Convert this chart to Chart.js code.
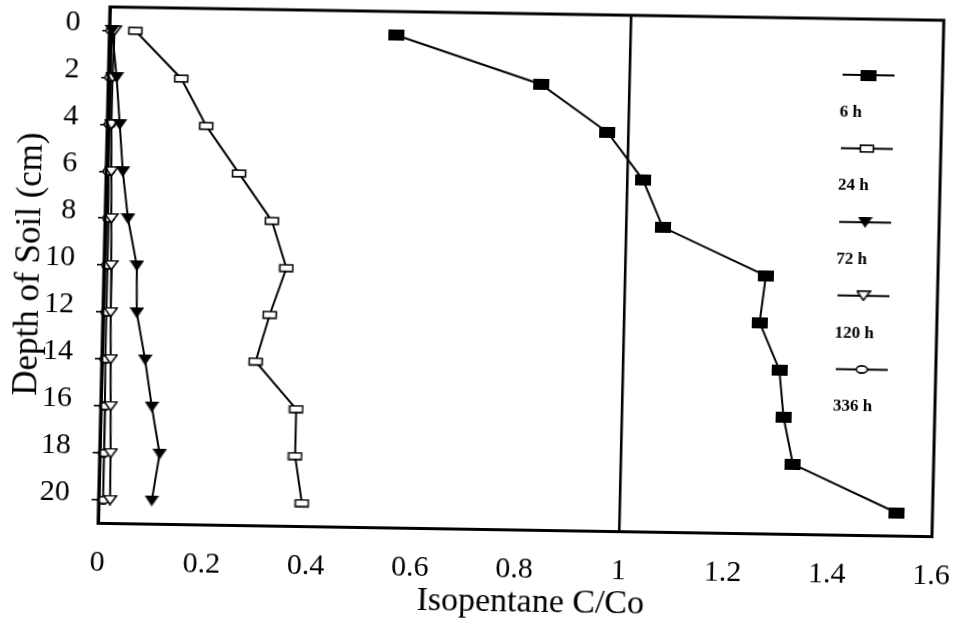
<!DOCTYPE html>
<html>
<head>
<meta charset="utf-8">
<script src="https://cdn.jsdelivr.net/npm/chart.js@4/dist/chart.umd.min.js"></script>
<style>
  html, body { margin: 0; padding: 0; background: #ffffff; overflow: hidden; }
  #wrap { position: absolute; left: 0; top: 0; width: 961px; height: 631px; background: #ffffff; }
  #c { position: absolute; left: 0; top: 0; background: #ffffff;
       transform-origin: 480px 315px; transform: matrix(1, 0.016, -0.023, 1, 0, 0); }
</style>
</head>
<body>
<div id="wrap"><canvas id="c" width="961" height="631"></canvas></div>
<script>
// ---------------- data ----------------
const depths = [0, 2, 4, 6, 8, 10, 12, 14, 16, 18, 20];
const seriesLabels = ['6 h', '24 h', '72 h', '120 h', '336 h'];
const c6h   = [0.55, 0.83, 0.96, 1.03, 1.07, 1.27, 1.26, 1.30, 1.31, 1.33, 1.53];
const c24h  = [0.05, 0.14, 0.19, 0.255, 0.32, 0.35, 0.32, 0.295, 0.375, 0.375, 0.39];
const c72h  = [0.005, 0.016, 0.024, 0.032, 0.044, 0.063, 0.065, 0.083, 0.098, 0.115, 0.102];
const c120h = [0.010, 0.008, 0.008, 0.010, 0.012, 0.014, 0.015, 0.017, 0.019, 0.021, 0.022];
const c336h = [0.004, 0.004, 0.005, 0.005, 0.006, 0.006, 0.007, 0.007, 0.008, 0.008, 0.009];
const refX = [1, 1];
const refDepth = [-1, 21];
const xTicks = [0, 0.2, 0.4, 0.6, 0.8, 1, 1.2, 1.4, 1.6];
const xTickLabels = ['0', '0.2', '0.4', '0.6', '0.8', '1', '1.2', '1.4', '1.6'];
const yTicks = [0, 2, 4, 6, 8, 10, 12, 14, 16, 18, 20];
const xTitle = '    Isopentane C/Co';
const yTitle = 'Depth of Soil (cm)';

// ---------------- markers ----------------
function marker(kind) {
  const c = document.createElement('canvas');
  const g = c.getContext('2d');
  g.fillStyle = '#000'; g.strokeStyle = '#000';
  if (kind === 'fsq') {
    c.width = 16; c.height = 11;
    g.fillRect(0, 0, 16, 11);
  } else if (kind === 'osq') {
    c.width = 16; c.height = 9;
    g.fillStyle = '#fff'; g.fillRect(1, 1, 14, 7);
    g.lineWidth = 1.6; g.strokeRect(1.5, 1.2, 13, 6.6);
  } else if (kind === 'ftri') {
    c.width = 15; c.height = 11;
    g.beginPath(); g.moveTo(0, 0); g.lineTo(15, 0); g.lineTo(7.5, 11); g.closePath(); g.fill();
  } else if (kind === 'otri') {
    c.width = 15; c.height = 11;
    g.fillStyle = '#fff';
    g.beginPath(); g.moveTo(1, 1); g.lineTo(14, 1); g.lineTo(7.5, 10); g.closePath(); g.fill();
    g.lineWidth = 1.6; g.stroke();
  } else {
    c.width = 13; c.height = 9;
    g.fillStyle = '#fff';
    g.beginPath(); g.ellipse(6.5, 4.5, 5.5, 3.6, 0, 0, Math.PI * 2); g.fill();
    g.lineWidth = 1.6; g.stroke();
  }
  return c;
}
const markers = [marker('fsq'), marker('osq'), marker('ftri'), marker('otri'), marker('ocirc')];

function pts(vals) { return vals.map((v, i) => ({ x: v, y: depths[i] })); }
const seriesValues = [c6h, c24h, c72h, c120h, c336h];

const datasets = seriesValues.map((vals, i) => ({
  label: seriesLabels[i],
  data: pts(vals),
  borderColor: '#000',
  backgroundColor: '#000',
  borderWidth: 2,
  pointStyle: markers[i],
  pointRadius: 6,
  pointHoverRadius: 6,
  showLine: true,
  tension: 0,
  clip: false,
  inLegend: true
}));
datasets.push({
  label: 'C/Co = 1',
  data: refX.map((v, i) => ({ x: v, y: refDepth[i] })),
  borderColor: '#000',
  borderWidth: 2.6,
  pointRadius: 0,
  showLine: true,
  inLegend: false
});

// ---------------- plugins ----------------
const framePlugin = {
  id: 'frame',
  afterDatasetsDraw(chart) {
    const a = chart.chartArea, ctx = chart.ctx;
    ctx.save();
    ctx.strokeStyle = '#000'; ctx.lineWidth = 3;
    ctx.strokeRect(a.left, a.top, a.right - a.left, a.bottom - a.top);
    ctx.restore();
  }
};

const legendPlugin = {
  id: 'stackLegend',
  afterDatasetsDraw(chart) {
    const ctx = chart.ctx;
    const a = chart.chartArea;
    const x0 = a.right - 100, x1 = a.right - 48;
    const xm = (x0 + x1) / 2;
    const y0 = a.top + 56, step = 73.6;
    ctx.save();
    chart.data.datasets.filter(d => d.inLegend).forEach((d, i) => {
      const y = y0 + i * step;
      ctx.strokeStyle = '#000'; ctx.lineWidth = 2;
      ctx.beginPath(); ctx.moveTo(x0, y); ctx.lineTo(x1, y); ctx.stroke();
      const m = d.pointStyle;
      ctx.drawImage(m, xm - m.width / 2, y - m.height / 2);
      ctx.fillStyle = '#000';
      ctx.font = 'bold 17px "Liberation Serif", "DejaVu Serif", serif';
      ctx.textAlign = 'left'; ctx.textBaseline = 'middle';
      ctx.fillText(d.label, x0 - 2, y + 37.5);
    });
    ctx.restore();
  }
};

// ---------------- chart ----------------
new Chart(document.getElementById('c'), {
  type: 'scatter',
  data: { datasets },
  options: {
    responsive: false,
    devicePixelRatio: 1,
    animation: false,
    events: [],
    layout: { padding: { left: 0, right: 24, top: 13, bottom: 0 } },
    plugins: { legend: { display: false }, tooltip: { enabled: false } },
    scales: {
      x: {
        type: 'linear',
        position: 'bottom',
        min: 0, max: 1.6,
        afterBuildTicks: s => { s.ticks = xTicks.map(v => ({ value: v })); },
        afterFit: s => { s.height = 101.5; s.paddingLeft = 0; s.paddingRight = 0; },
        grid: { drawOnChartArea: false, drawTicks: false },
        border: { display: true, color: '#000', width: 3 },
        ticks: {
          color: '#000',
          padding: 22,
          font: { family: '"Liberation Serif", serif', size: 30 },
          callback: (v, i) => xTickLabels[i]
        },
        title: {
          display: true, text: xTitle, color: '#000',
          font: { family: '"Liberation Serif", serif', size: 34 },
          padding: { top: 0, bottom: 9 }
        }
      },
      y: {
        type: 'linear',
        position: 'left',
        reverse: true,
        min: -1, max: 21,
        afterBuildTicks: s => { s.ticks = yTicks.map(v => ({ value: v })); },
        afterFit: s => { s.width = 103; s.paddingTop = 0; s.paddingBottom = 0; },
        grid: { drawOnChartArea: false, drawTicks: true, tickLength: 7, color: '#000', lineWidth: 1.6 },
        border: { display: true, color: '#000', width: 3 },
        ticks: {
          color: '#000',
          padding: 22,
          labelOffset: -7,
          font: { family: '"Liberation Serif", serif', size: 30 },
          callback: (v, i) => String(yTicks[i])
        },
        title: {
          display: true, text: yTitle, color: '#000',
          font: { family: '"Liberation Serif", serif', size: 35 },
          padding: { top: 8, bottom: 0 }
        }
      }
    }
  },
  plugins: [framePlugin, legendPlugin]
});
</script>
</body>
</html>
